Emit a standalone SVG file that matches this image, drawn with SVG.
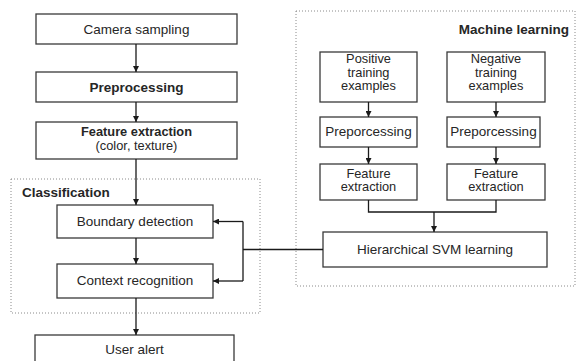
<svg xmlns="http://www.w3.org/2000/svg" width="576" height="361" viewBox="0 0 576 361">
  <defs>
    <marker id="arrow" viewBox="0 0 10 10" refX="10" refY="5" markerWidth="6" markerHeight="6" markerUnits="userSpaceOnUse" orient="auto">
      <path d="M0,0 L10,5 L0,10 z" fill="#1a1a1a"/>
    </marker>
    <style>
      .box { fill: #ffffff; stroke: #3a3a3a; stroke-width: 1.3; }
      .group { fill: none; stroke: #8a8a8a; stroke-width: 1; stroke-dasharray: 1 2; }
      .edge { fill: none; stroke: #1a1a1a; stroke-width: 1.3; }
      text { font-family: "Liberation Sans", Arial, sans-serif; font-size: 13.5px; fill: #262626; }
      .c { text-anchor: middle; }
      .b { font-weight: bold; }
      .s { font-size: 12.8px; }
    </style>
  </defs>

  <!-- background -->
  <rect x="0" y="0" width="576" height="361" fill="#ffffff"/>

  <!-- dotted containers -->
  <g id="classification">
    <rect class="group" x="11" y="179" width="249" height="134"/>
    <text class="b" x="22" y="197">Classification</text>
  </g>
  <g id="machine-learning">
    <rect class="group" x="296" y="11" width="279" height="275"/>
    <text class="b" x="569" y="34" text-anchor="end">Machine learning</text>
  </g>

  <!-- main pipeline -->
  <g id="camera-sampling">
    <rect class="box" x="36" y="14" width="201" height="30"/>
    <text class="c" x="136.5" y="33.5">Camera sampling</text>
  </g>
  <g id="preprocessing">
    <rect class="box" x="36" y="72" width="201" height="30"/>
    <text class="c b" x="136.5" y="91.5">Preprocessing</text>
  </g>
  <g id="feature-extraction">
    <rect class="box" x="36" y="122" width="201" height="37"/>
    <text class="c b s" x="136.5" y="136">Feature extraction</text>
    <text class="c s" x="136.5" y="150">(color, texture)</text>
  </g>
  <g id="boundary-detection">
    <rect class="box" x="57" y="205" width="156" height="33"/>
    <text class="c" x="135" y="225.5">Boundary detection</text>
  </g>
  <g id="context-recognition">
    <rect class="box" x="57" y="264" width="156" height="34"/>
    <text class="c" x="135" y="285">Context recognition</text>
  </g>
  <g id="user-alert">
    <rect class="box" x="35" y="335" width="199" height="32"/>
    <text class="c" x="134.5" y="354">User alert</text>
  </g>

  <!-- training pipeline -->
  <g id="positive-examples">
    <rect class="box" x="320" y="52" width="97" height="50"/>
    <text class="c s" x="368.5" y="63">Positive</text>
    <text class="c s" x="368.5" y="76.5">training</text>
    <text class="c s" x="368.5" y="90">examples</text>
  </g>
  <g id="negative-examples">
    <rect class="box" x="447" y="52" width="98" height="50"/>
    <text class="c s" x="496" y="63">Negative</text>
    <text class="c s" x="496" y="76.5">training</text>
    <text class="c s" x="496" y="90">examples</text>
  </g>
  <g id="positive-preprocessing">
    <rect class="box" x="320" y="117" width="97" height="30"/>
    <text class="c" x="368.5" y="136">Preporcessing</text>
  </g>
  <g id="negative-preprocessing">
    <rect class="box" x="447" y="117" width="93" height="30"/>
    <text class="c" x="493.5" y="136">Preporcessing</text>
  </g>
  <g id="positive-features">
    <rect class="box" x="320" y="164" width="97" height="36"/>
    <text class="c s" x="368.5" y="177.5">Feature</text>
    <text class="c s" x="368.5" y="191">extraction</text>
  </g>
  <g id="negative-features">
    <rect class="box" x="447" y="164" width="98" height="36"/>
    <text class="c s" x="496" y="177.5">Feature</text>
    <text class="c s" x="496" y="191">extraction</text>
  </g>
  <g id="svm-learning">
    <rect class="box" x="323" y="232" width="224" height="35"/>
    <text class="c" x="435" y="253.5">Hierarchical SVM learning</text>
  </g>

  <!-- connectors -->
  <g id="connectors">
    <path class="edge" d="M136,44 V72" marker-end="url(#arrow)"/>
    <path class="edge" d="M136,102 V122" marker-end="url(#arrow)"/>
    <path class="edge" d="M136,159 V205" marker-end="url(#arrow)"/>
    <path class="edge" d="M136,238 V264" marker-end="url(#arrow)"/>
    <path class="edge" d="M136,298 V335" marker-end="url(#arrow)"/>

    <path class="edge" d="M368.5,102 V117" marker-end="url(#arrow)"/>
    <path class="edge" d="M496,102 V117" marker-end="url(#arrow)"/>
    <path class="edge" d="M368.5,147 V164" marker-end="url(#arrow)"/>
    <path class="edge" d="M496,147 V164" marker-end="url(#arrow)"/>

    <path class="edge" d="M368.5,200 V212 H496 V200"/>
    <path class="edge" d="M434,212 V232" marker-end="url(#arrow)"/>

    <path class="edge" d="M323,249.5 H243"/>
    <path class="edge" d="M243,221.5 V281"/>
    <path class="edge" d="M243,221.5 H213" marker-end="url(#arrow)"/>
    <path class="edge" d="M243,281 H213" marker-end="url(#arrow)"/>
  </g>
</svg>
